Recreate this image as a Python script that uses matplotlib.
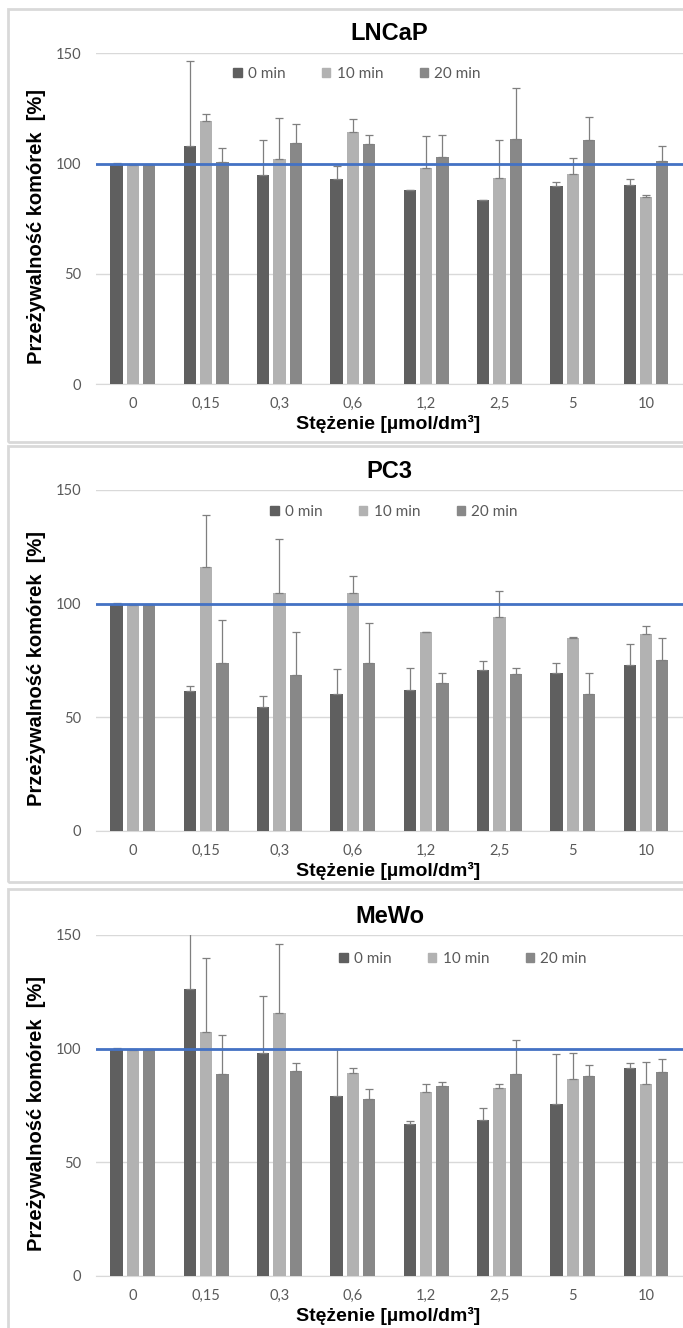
import numpy as np
import matplotlib.pyplot as plt
from matplotlib.patches import Rectangle, Patch

# data
concentrations = ['0', '0,15', '0,3', '0,6', '1,2', '2,5', '5', '10']
series_names = ['0 min', '10 min', '20 min']

lncap_0 = [100, 107.8, 94.9, 93.1, 87.9, 83.4, 90.0, 90.4]
lncap_10 = [99.5, 119.2, 102.1, 114.2, 98.2, 93.4, 95.4, 84.6]
lncap_20 = [99.5, 100.9, 109.3, 108.8, 103.0, 111.1, 110.8, 101.2]
lncap_0_err = [0.4, 38.5, 15.7, 5.7, 0.3, 0.2, 1.6, 2.6]
lncap_10_err = [0.3, 3.1, 18.4, 5.9, 14.1, 17.2, 7.0, 1.2]
lncap_20_err = [0.3, 6.3, 8.8, 4.2, 10.0, 23.3, 10.2, 6.9]

pc3_0 = [100, 61.5, 54.5, 60.1, 62.0, 70.8, 69.6, 73.0]
pc3_10 = [99.3, 116.1, 104.7, 104.8, 87.4, 93.9, 84.8, 86.8]
pc3_20 = [99.3, 74.0, 68.4, 74.0, 64.9, 68.9, 60.4, 75.3]
pc3_0_err = [0.3, 2.1, 4.7, 10.9, 9.6, 4.1, 4.4, 9.3]
pc3_10_err = [0.3, 23.1, 23.7, 7.5, 0.3, 11.7, 0.4, 3.4]
pc3_20_err = [0.3, 18.7, 19.2, 17.4, 4.7, 2.9, 9.2, 9.6]

mewo_0 = [100, 126.2, 98.2, 79.0, 66.7, 68.6, 75.7, 91.5]
mewo_10 = [99.3, 107.3, 115.5, 89.4, 80.8, 82.8, 86.5, 84.5]
mewo_20 = [99.3, 89.0, 90.2, 77.6, 83.7, 88.6, 87.8, 89.7]
mewo_0_err = [0.3, 28.0, 25.1, 20.7, 1.6, 5.2, 21.8, 2.2]
mewo_10_err = [0.3, 32.6, 30.4, 1.9, 3.7, 1.4, 11.7, 9.5]
mewo_20_err = [0.3, 16.9, 3.5, 4.5, 1.5, 15.1, 4.9, 5.9]

colors = ['#5f5f5f', '#b2b2b2', '#888888']
blue = '#4472c4'
txt_gray = '#595959'
grid_gray = '#d9d9d9'

W, H = 683, 1328
fig = plt.figure(figsize=(W / 100, H / 100), dpi=100)


def fx(x):
    return x / W


def fy(y):
    return 1 - y / H


# pixel layout: (name, values, errors, y of 150, y of 0, frame top, frame bottom,
#                legend center x, legend y, title y, xlabel y)
panels = [
    ('LNCaP', [lncap_0, lncap_10, lncap_20], [lncap_0_err, lncap_10_err, lncap_20_err],
     53.3, 384.0, 8.5, 441.5, 357, 74, 33, 423.5),
    ('PC3', [pc3_0, pc3_10, pc3_20], [pc3_0_err, pc3_10_err, pc3_20_err],
     490.0, 830.7, 445.5, 881.5, 394, 511.7, 471.7, 870.5),
    ('MeWo', [mewo_0, mewo_10, mewo_20], [mewo_0_err, mewo_10_err, mewo_20_err],
     935.0, 1275.7, 888.5, 1340, 463, 959, 916.7, 1315.5),
]

ax_left, ax_right = 96.2, 682.7
x = np.arange(len(concentrations))
offsets = [-0.222, 0.0, 0.222]
bar_w = 0.168

for name, vals, errs, y150, y0, ftop, fbot, lcx, ly, ty, xly in panels:
    fig.patches.append(Rectangle((fx(8), fy(fbot)), fx(700) - fx(8), fy(ftop) - fy(fbot),
                                 transform=fig.transFigure, fill=False,
                                 edgecolor=grid_gray, lw=2, zorder=0))
    ax = fig.add_axes([fx(ax_left), fy(y0), fx(ax_right) - fx(ax_left), fy(y150) - fy(y0)])
    ax.set_xlim(-0.5, 7.5)
    ax.set_ylim(0, 150)
    for k in range(3):
        ax.bar(x + offsets[k], vals[k], width=bar_w, color=colors[k], zorder=3)
        ax.errorbar(x + offsets[k], vals[k], yerr=[np.zeros(len(x)), errs[k]], fmt='none',
                    ecolor='#7f7f7f', elinewidth=0.9, capsize=2.6, capthick=0.9, zorder=4)
    ax.axhline(100, color=blue, lw=2.0, zorder=5)
    ax.set_yticks([0, 50, 100, 150])
    ax.set_xticks(x)
    ax.set_xticklabels(concentrations)
    ax.yaxis.grid(True, color=grid_gray, lw=1)
    ax.set_axisbelow(True)
    for s in ['top', 'right', 'left']:
        ax.spines[s].set_visible(False)
    ax.spines['bottom'].set_color(grid_gray)
    ax.tick_params(length=0, labelsize=10.5, labelcolor=txt_gray, pad=11)
    for lab in ax.get_xticklabels() + ax.get_yticklabels():
        lab.set_family('Lato')
    ax.tick_params(axis='x', pad=9.5)

    handles = [Patch(color=colors[k], label=series_names[k]) for k in range(3)]
    fig.legend(handles=handles, loc='center', bbox_to_anchor=(fx(lcx), fy(ly)),
               ncol=3, frameon=False, handlelength=0.55, handleheight=0.55,
               handletextpad=0.4, columnspacing=2.4, borderpad=0,
               prop={'family': 'Lato', 'size': 11}, labelcolor=txt_gray)

    fig.text(fx((ax_left + ax_right) / 2), fy(ty), name, ha='center', va='center',
             family='Liberation Sans', weight='bold', fontsize=17)
    fig.text(fx(388), fy(xly), 'Stężenie [µmol/dm³]', ha='center', va='center',
             family='Liberation Sans', weight='bold', fontsize=14)
    fig.text(fx(37), fy((y150 + y0) / 2 + 8), 'Przeżywalność komórek  [%]', rotation=90,
             ha='center', va='center', family='Liberation Sans', weight='bold', fontsize=14.5)

fig.savefig('out.png', dpi=100)
